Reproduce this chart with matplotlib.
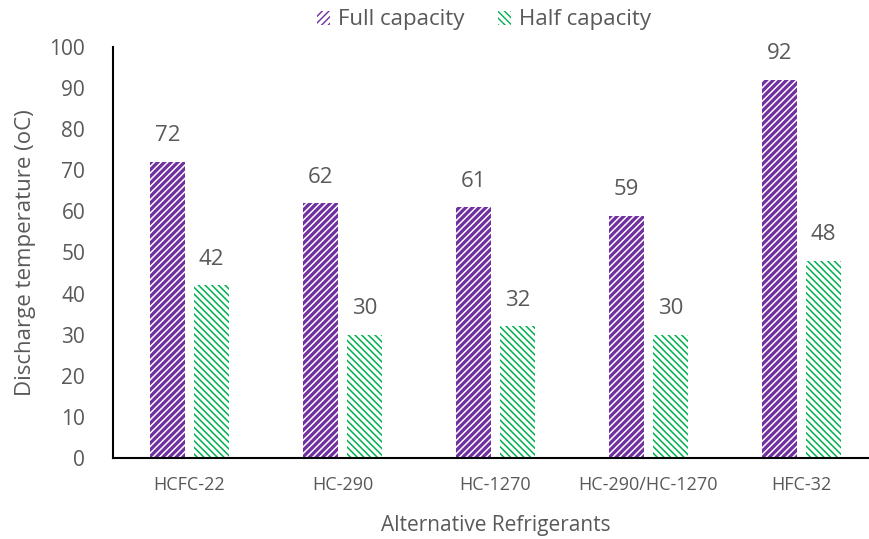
import numpy as np
import matplotlib.pyplot as plt

refrigerants = ['HCFC-22', 'HC-290', 'HC-1270', 'HC-290/HC-1270', 'HFC-32']
full_capacity = [72, 62, 61, 59, 92]
half_capacity = [42, 30, 32, 30, 48]

plt.rcParams['font.family'] = ['Open Sans', 'DejaVu Sans']
grey = '#595959'
purple = '#7030A0'
green = '#00B050'

fig = plt.figure(figsize=(8.69, 5.39), dpi=100)
ax = fig.add_axes([113 / 869, 81 / 539, 765 / 869, 411 / 539])

x = np.arange(len(refrigerants))
w = 0.23
gap = 0.06

b1 = ax.bar(x - (w + gap) / 2, full_capacity, w, facecolor='white',
            edgecolor=purple, hatch='/////', linewidth=0, label='Full capacity')
b2 = ax.bar(x + (w + gap) / 2, half_capacity, w, facecolor='white',
            edgecolor=green, hatch='\\\\\\\\\\', linewidth=0, label='Half capacity')
for b in b1:
    b.set_hatch_linewidth(2.3)
for b in b2:
    b.set_hatch_linewidth(1.1)

for bars, vals in ((b1, full_capacity), (b2, half_capacity)):
    for b, v in zip(bars, vals):
        ax.text(b.get_x() + b.get_width() / 2, v + 3.8, str(v), ha='center',
                va='bottom', fontsize=16, color=grey)

ax.set_xlim(-0.5, 4.5)
ax.set_ylim(0, 100)
ax.set_yticks(range(0, 101, 10))
ax.set_xticks(x)
ax.set_xticklabels(refrigerants, fontsize=13, color=grey)
ax.tick_params(axis='y', labelsize=15, labelcolor=grey, length=0, pad=20)
ax.tick_params(axis='x', length=0, pad=13)
for s in ('top', 'right'):
    ax.spines[s].set_visible(False)
for s in ('left', 'bottom'):
    ax.spines[s].set_linewidth(1.5)
    ax.spines[s].set_color('black')

ax.set_ylabel('Discharge temperature (oC)', fontsize=16, color=grey, labelpad=10)
ax.set_xlabel('Alternative Refrigerants', fontsize=15, color=grey, labelpad=15)

fig.legend(handles=[b1, b2], loc='center', bbox_to_anchor=(0.557, 0.963),
           ncol=2, frameon=False, fontsize=16, labelcolor=grey,
           handlelength=0.6, handleheight=0.6, handletextpad=0.35, columnspacing=1.5)

fig.savefig('out.png', dpi=100)
